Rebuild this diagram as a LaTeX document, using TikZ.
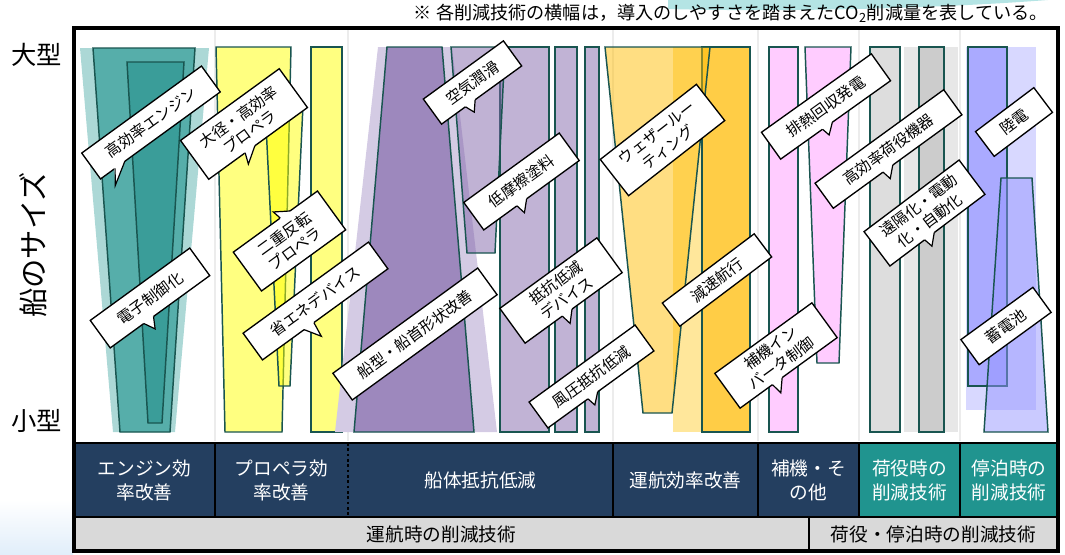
\documentclass[tikz,border=0pt]{standalone}
\usepackage{fontspec}
\setmainfont{Noto Sans CJK JP}
\definecolor{shpline}{RGB}{25,85,80}
\definecolor{tealbg}{RGB}{172,216,214}
\definecolor{tealmid}{RGB}{86,174,170}
\definecolor{tealdark}{RGB}{58,157,153}
\definecolor{yel}{RGB}{255,255,128}
\definecolor{yelpure}{RGB}{255,255,0}
\definecolor{purbg}{RGB}{212,203,228}
\definecolor{purdark}{RGB}{157,136,189}
\definecolor{purlight}{RGB}{193,179,213}
\definecolor{purtr}{RGB}{129,101,169}
\definecolor{goldbg}{RGB}{255,231,155}
\definecolor{goldtr}{RGB}{255,189,5}
\definecolor{gold}{RGB}{255,205,70}
\definecolor{pinkf}{RGB}{255,204,255}
\definecolor{gr1}{RGB}{221,221,221}
\definecolor{grbg}{RGB}{231,231,231}
\definecolor{gr2}{RGB}{204,204,204}
\definecolor{blbg}{RGB}{216,216,255}
\definecolor{bl1}{RGB}{170,170,255}
\definecolor{bltr}{RGB}{150,150,255}
\definecolor{navy}{RGB}{36,63,96}
\definecolor{tealcell}{RGB}{32,148,143}
\definecolor{grayrow}{RGB}{217,217,217}
\definecolor{guide}{RGB}{236,236,236}
\definecolor{decoteal}{RGB}{180,228,228}
\definecolor{decoblue}{RGB}{225,238,250}
\newcommand\ctail[7]{%
  \begin{scope}[shift={(#1.center)}, rotate=#2]
    \fill[white] (#5,#4) -- (#7) -- (#6,#4) -- cycle;
    \fill[white] (#5,#4) -- (#5,#3) -- (#7) -- (#6,#3) -- (#6,#4) -- cycle;
    \draw[line width=0.9pt, line join=miter] (#5,#3) -- (#7) -- (#6,#3);
  \end{scope}}
\begin{document}
\begin{tikzpicture}[x=0.75pt,y=-0.75pt,
  shp/.style={draw=shpline, line width=1.1pt, line join=miter},
  callout/.style={draw=black, line width=1pt, fill=white, align=center,
    inner sep=0pt, font=\fontsize{11.5}{14}\selectfont},
  cell/.style={text=white, align=center, font=\fontsize{14}{18}\selectfont},
  rowtxt/.style={text=black, align=center, font=\fontsize{14}{18}\selectfont},
  axis/.style={font=\fontsize{19}{22}\selectfont}]
\useasboundingbox (0,0) rectangle (1065,554);
% background decorations
\fill[decoteal] (668,0) -- (1048,0) .. controls (930,9) and (780,12) .. (668,9) -- cycle;
\shade[top color=white, bottom color=decoblue] (0,500) rectangle (73,554);
% guide lines
\foreach \gx in {215,348,613,758,859,960}
  \draw[guide, line width=1.5pt] (\gx,30) -- (\gx,441);
% engine column
\fill[tealbg] (80,48) -- (209,48) -- (175,432) -- (113,432) -- cycle;
\draw[shp, fill=tealmid] (93,48) -- (195,48) -- (170,432) -- (120,432) -- cycle;
\draw[shp, fill=tealdark] (127,62) -- (184,62) -- (162,423) -- (148,423) -- cycle;
% propeller column
\draw[shp, fill=yel] (216,47) -- (291,47) -- (282,432) -- (225,432) -- cycle;
\fill[yelpure, fill opacity=0.5] (265,105) -- (303,105) -- (290,386) -- (279,386) -- cycle;
\draw[shp] (265,105) -- (303,105) -- (290,386) -- (279,386) -- cycle;
\draw[shp, fill=yel] (311,47) rectangle (342,432);
% hull column
\fill[purbg] (378,47) -- (452,47) -- (497,432) -- (335,432) -- cycle;
\draw[shp, fill=purdark] (387,47) -- (442,47) -- (474,432) -- (354,432) -- cycle;
\draw[shp, fill=purlight] (500,47) rectangle (549,432);
\fill[purtr, fill opacity=0.5] (451,47) -- (505,47) -- (495,253) -- (467,253) -- cycle;
\draw[shp] (451,47) -- (505,47) -- (495,253) -- (467,253) -- cycle;
\draw[shp, fill=purlight] (555,47) rectangle (577,432);
\draw[shp, fill=purlight] (585,47) rectangle (599,432);
% operation column
\fill[goldbg] (673,47) rectangle (702,432);
\draw[shp, fill=gold] (702,47) rectangle (750,432);
\fill[goldtr, fill opacity=0.5] (605,47) -- (710,47) -- (672,413) -- (643,413) -- cycle;
\draw[shp] (605,47) -- (710,47) -- (672,413) -- (643,413) -- cycle;
% auxiliary column
\draw[shp, fill=pinkf] (769,47) rectangle (798,432);
\draw[shp, fill=pinkf] (805,47) -- (851,47) -- (839,363) -- (817,363) -- cycle;
% cargo column
\draw[shp, fill=gr1] (870,47) rectangle (900,432);
\fill[grbg] (904,47) rectangle (958,432);
\draw[shp, fill=gr2] (919,47) rectangle (944,432);
% berth column
\fill[blbg] (966,47) rectangle (1036,410);
\draw[shp, fill=bl1] (968,47) rectangle (1007,386);
\fill[bltr, fill opacity=0.5] (1001,178) -- (1032,178) -- (1048,432) -- (984,432) -- cycle;
\draw[shp] (1001,178) -- (1032,178) -- (1048,432) -- (984,432) -- cycle;
% bottom table
\fill[navy] (74,443) rectangle (859,517);
\fill[tealcell] (859,443) rectangle (1058,517);
\fill[grayrow] (74,517) rectangle (1058,551);
\draw[line width=1.4pt] (74,443) -- (1058,443);
\draw[line width=1.4pt] (74,517) -- (1058,517);
\foreach \gx in {215,613,758,859,960}
  \draw[line width=1.2pt] (\gx,443) -- (\gx,517);
\draw[line width=2pt, dash pattern=on 2pt off 2pt] (348,443) -- (348,517);
\draw[line width=1.4pt] (809,517) -- (809,551);
\draw[line width=2.3pt] (74,28) rectangle (1058,551);
\node[cell] (k1) at (144.5,480) {エンジン効\\率改善};
\node[cell] (k2) at (281.5,480) {プロペラ効\\率改善};
\node[cell] (k3) at (480.5,480) {船体抵抗低減};
\node[cell] (k4) at (685.5,480) {運航効率改善};
\node[cell] (k5) at (808.5,480) {補機・そ\\の他};
\node[cell] (k6) at (909.5,480) {荷役時の\\削減技術};
\node[cell] (k7) at (1009,480) {停泊時の\\削減技術};
\node[rowtxt] (r1) at (441.5,534) {運航時の削減技術};
\node[rowtxt] (r2) at (933.5,534) {荷役・停泊時の削減技術};
% callouts
\node[callout, rotate=36, minimum width=148*0.75pt, minimum height=32*0.75pt] (c1) at (151,122.5) {高効率エンジン};
\ctail{c1}{36}{16}{14.5}{-56}{-44}{-66,30}
\node[callout, rotate=36, minimum width=122*0.75pt, minimum height=48*0.75pt] (c2) at (244,124) {大径・高効率\\プロペラ};
\ctail{c2}{36}{24}{22.5}{-16}{-4}{-20,35}
\node[callout, rotate=36, minimum width=123*0.75pt, minimum height=34*0.75pt] (c3) at (150,298) {電子制御化};
\ctail{c3}{36}{17}{15.5}{-20}{-8}{-14,28}
\node[callout, rotate=36, minimum width=104*0.75pt, minimum height=48*0.75pt] (c4) at (289.5,241) {二重反転\\プロペラ};
\ctail{c4}{36}{-24}{-22.5}{6}{18}{4,-33}
\node[callout, rotate=36, minimum width=155*0.75pt, minimum height=33*0.75pt] (c5) at (315.5,301) {省エネデバイス};
\ctail{c5}{36}{16.5}{15}{-26}{-14}{-16,32}
\node[callout, rotate=36, minimum width=179*0.75pt, minimum height=33*0.75pt] (c6) at (415,334) {船型・船首形状改善};
\node[callout, rotate=36, minimum width=99*0.75pt, minimum height=31*0.75pt] (c7) at (472.5,82.5) {空気潤滑};
\ctail{c7}{36}{15.5}{14}{-20}{-8}{-16,25}
\node[callout, rotate=36, minimum width=118*0.75pt, minimum height=34*0.75pt] (c8) at (521.5,181.5) {低摩擦塗料};
\ctail{c8}{36}{17}{15.5}{-18}{-6}{-16,27}
\node[callout, rotate=36, minimum width=120*0.75pt, minimum height=43*0.75pt] (c9) at (561,290.5) {抵抗低減\\デバイス};
\ctail{c9}{36}{21.5}{20}{-14}{-2}{-12,32}
\node[callout, rotate=36, minimum width=131*0.75pt, minimum height=32*0.75pt] (c10) at (591.5,376.5) {風圧抵抗低減};
\ctail{c10}{36}{16}{14.5}{-16}{-4}{-14,25}
\node[callout, rotate=38, minimum width=122*0.75pt, minimum height=46*0.75pt] (c11) at (662.5,140) {ウェザールー\\ティング};
\node[callout, rotate=37, minimum width=115*0.75pt, minimum height=29*0.75pt] (c12) at (717,280) {減速航行};
\node[callout, rotate=35.5, minimum width=135*0.75pt, minimum height=33*0.75pt] (c13) at (826,106.5) {排熱回収発電};
\ctail{c13}{35.5}{16.5}{15}{-16}{-4}{-14,25}
\node[callout, rotate=36, minimum width=159*0.75pt, minimum height=31*0.75pt] (c14) at (888.5,149) {高効率荷役機器};
\ctail{c14}{36}{15.5}{14}{-18}{-6}{-16,25}
\node[callout, rotate=37, minimum width=119*0.75pt, minimum height=43*0.75pt] (c15) at (924.5,213) {遠隔化・電動\\化・自動化};
\ctail{c15}{37}{21.5}{20}{-16}{-4}{-14,31}
\node[callout, rotate=36, minimum width=120*0.75pt, minimum height=43*0.75pt] (c16) at (776,355.5) {補機イン\\バータ制御};
\ctail{c16}{36}{21.5}{20}{-20}{-8}{-18,33}
\node[callout, rotate=37, minimum width=73*0.75pt, minimum height=31*0.75pt] (c17) at (1014,122) {陸電};
\node[callout, rotate=36, minimum width=89*0.75pt, minimum height=31*0.75pt] (c18) at (1006,326) {蓄電池};
% axis labels
\node[axis] (big) at (37,55) {大型};
\node[axis] (small) at (37,421) {小型};
\node[font=\fontsize{22}{24}\selectfont, rotate=90] (size) at (33,245) {船のサイズ};
% note
\node[anchor=east, inner sep=0pt, font=\fontsize{13.6}{15}\selectfont] (note) at (1048,13) {※ 各削減技術の横幅は，導入のしやすさを踏まえたCO\textsubscript{2}削減量を表している。};
\end{tikzpicture}
\end{document}
